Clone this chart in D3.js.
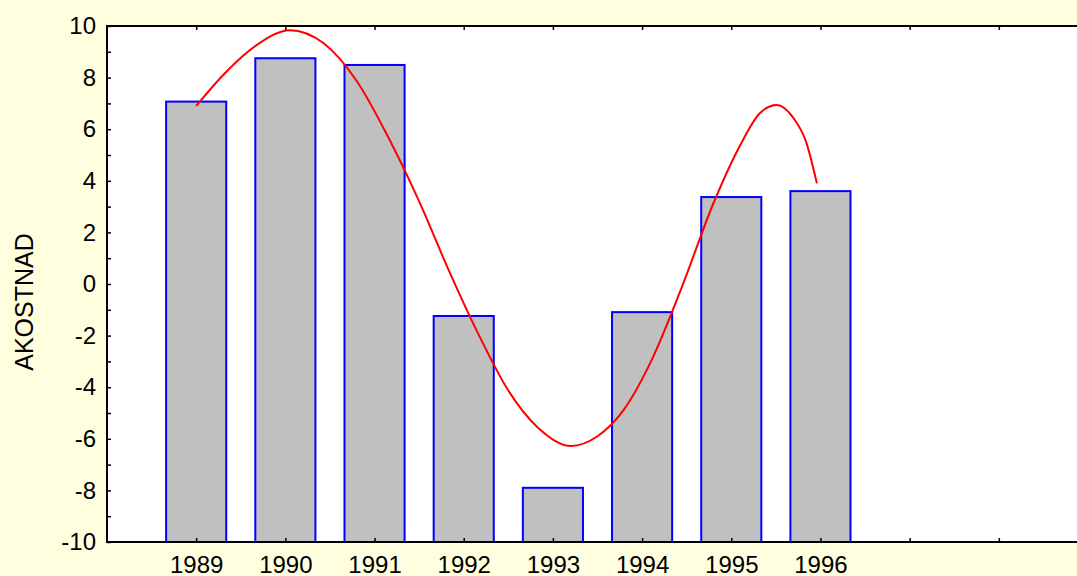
<!DOCTYPE html>
<html>
<head>
<meta charset="utf-8">
<script src="https://cdn.jsdelivr.net/npm/d3@7"></script>
<style>
  html, body { margin: 0; padding: 0; background: #ffffe0; overflow: hidden; }
  svg { display: block; }
  text { font-family: "Liberation Sans", Arial, sans-serif; fill: #000; }
</style>
</head>
<body>
<div class="chartContainer"></div>
<script>
// Data
const years = [1989, 1990, 1991, 1992, 1993, 1994, 1995, 1996];
const akostnad = [7.07, 8.75, 8.49, -1.24, -7.9, -1.09, 3.37, 3.6];

// fitted curve (red line), sampled along the year axis
const curveYears = [1989.0, 1989.33, 1989.67, 1990.05, 1990.43, 1990.80, 1991.17, 1991.50,
  1991.83, 1992.17, 1992.50, 1992.83, 1993.20, 1993.50, 1993.80, 1994.10, 1994.45, 1994.80,
  1995.10, 1995.32, 1995.51, 1995.70, 1995.84, 1995.96];
const curveValues = [6.90, 8.20, 9.24, 9.84, 9.33, 7.87, 5.58, 3.20,
  0.55, -1.98, -4.13, -5.56, -6.28, -5.90, -4.85, -3.00, -0.08, 3.13,
  5.38, 6.62, 6.94, 6.42, 5.50, 3.90];

const yTicks = [-10, -8, -6, -4, -2, 0, 2, 4, 6, 8, 10];
const xTickYears = [1989, 1990, 1991, 1992, 1993, 1994, 1995, 1996, 1997, 1998];

const W = 1077;
const H = 576;
const LEFT = 107, RIGHT = 1088, TOP = 26, BOTTOM = 542;

const x = d3.scaleLinear().domain([1988, 1999]).range([LEFT, RIGHT]);
const y = d3.scaleLinear().domain([-10, 10]).range([BOTTOM, TOP]);
const halfBar = 0.337;

const svg = d3.select(".chartContainer").append("svg")
  .attr("width", W).attr("height", H);

// plot background
svg.append("rect")
  .attr("x", LEFT).attr("y", TOP)
  .attr("width", RIGHT - LEFT).attr("height", BOTTOM - TOP)
  .attr("fill", "#fff");

// Bars
svg.append("g").selectAll("rect")
  .data(years)
  .enter()
  .append("rect")
  .attr("x", (d) => x(d - halfBar))
  .attr("width", (d) => x(d + halfBar) - x(d - halfBar))
  .attr("y", (d, i) => y(akostnad[i]))
  .attr("height", (d, i) => y(-10) - y(akostnad[i]))
  .attr("fill", "#c0c0c0")
  .attr("stroke", "#0000ff")
  .attr("stroke-width", 2);

// Curve
const line = d3.line()
  .x((d) => x(d[0]))
  .y((d) => y(d[1]))
  .curve(d3.curveMonotoneX);

svg.append("path")
  .datum(curveYears.map((d, i) => [d, curveValues[i]]))
  .attr("d", line)
  .attr("fill", "none")
  .attr("stroke", "#ff0000")
  .attr("stroke-width", 2);

// Axes (ticks pointing into the plot)
const yAxis = d3.axisLeft(y).tickValues(yTicks).tickSize(0).tickPadding(11).tickFormat((d) => String(d));
const gy = svg.append("g").attr("transform", `translate(${LEFT},0)`).call(yAxis);
gy.select(".domain").remove();
gy.selectAll("text").style("font-size", "24px").attr("font-family", null);

svg.append("g").attr("transform", `translate(${LEFT},0)`)
  .call(d3.axisRight(y).ticks(20).tickSize(4).tickFormat(""))
  .call((g) => g.select(".domain").remove());

const xAxis = d3.axisBottom(x).tickValues(years).tickSize(0).tickPadding(14).tickFormat((d) => String(d));
const gx = svg.append("g").attr("transform", `translate(0,${BOTTOM})`).call(xAxis);
gx.select(".domain").remove();
gx.selectAll("text").style("font-size", "24px").attr("font-family", null);

svg.append("g").attr("transform", `translate(0,${BOTTOM})`)
  .call(d3.axisTop(x).tickValues(xTickYears).tickSize(4).tickFormat(""))
  .call((g) => g.select(".domain").remove());
svg.append("g").attr("transform", `translate(0,${TOP})`)
  .call(d3.axisBottom(x).tickValues(xTickYears).tickSize(4).tickFormat(""))
  .call((g) => g.select(".domain").remove());

svg.selectAll(".tick line").attr("stroke", "#000").attr("stroke-width", 1.5);

// frame
svg.append("rect")
  .attr("x", LEFT).attr("y", TOP)
  .attr("width", RIGHT - LEFT).attr("height", BOTTOM - TOP)
  .attr("fill", "none")
  .attr("stroke", "#000")
  .attr("stroke-width", 2);

// Y label
svg.append("text")
  .attr("transform", `translate(33,${(TOP + BOTTOM) / 2 + 18}) rotate(-90)`)
  .attr("text-anchor", "middle")
  .style("font-size", "25px")
  .text("AKOSTNAD");
</script>
</body>
</html>
